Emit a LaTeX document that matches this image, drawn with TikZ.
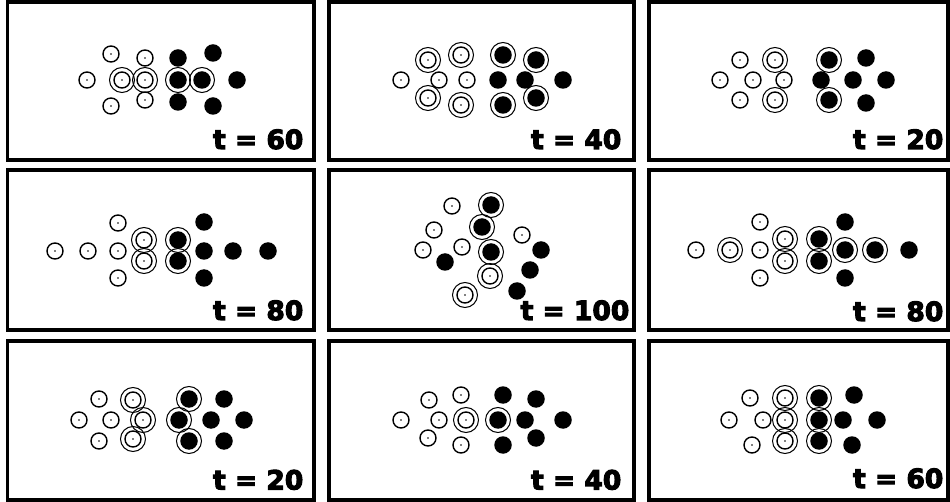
\documentclass[tikz,border=0pt]{standalone}
\usepackage{fontspec}
\newfontfamily\lblfont{DejaVu Sans}[BoldFeatures={FakeBold=4}]
\tikzset{
  frame/.style={draw, line width=3.5pt},
  opn/.style={circle, draw, line width=1.4pt, inner sep=0pt, minimum size=16pt,
    path picture={\fill (path picture bounding box.center) circle (0.9pt);}},
  fil/.style={circle, fill, inner sep=0pt, minimum size=17.5pt},
  ringc/.style={circle, draw, line width=1pt, inner sep=0pt, minimum size=25pt},
  tlabel/.style={anchor=base east, inner sep=0pt, font=\lblfont\bfseries\fontsize{26.5}{27}\selectfont}
}
\newcommand\dotO[3]{\node[opn] (#1) at (#2,#3) {};}
\newcommand\dotF[3]{\node[fil] (#1) at (#2,#3) {};}
\newcommand\dotRO[3]{\node[opn] (#1) at (#2,#3) {};\node[ringc] (#1r) at (#1) {};}
\newcommand\dotRF[3]{\node[fil] (#1) at (#2,#3) {};\node[ringc] (#1r) at (#1) {};}
\begin{document}
\begin{tikzpicture}[x=1pt,y=-1pt]
\useasboundingbox (0,0) rectangle (950,502);
% frames
\draw[frame] (7.5,2) rectangle (314,160);
\draw[frame] (329,2) rectangle (634,160);
\draw[frame] (649,2) rectangle (948,160);
\draw[frame] (7.5,170) rectangle (314,330);
\draw[frame] (329,170) rectangle (634,330);
\draw[frame] (649,170) rectangle (948,330);
\draw[frame] (7.5,341) rectangle (314,500);
\draw[frame] (329,341) rectangle (634,500);
\draw[frame] (649,341) rectangle (948,500);
% panel 1
\dotO{a1}{87}{80}
\dotO{a2}{111}{54}
\dotO{a3}{111}{106}
\dotRO{a4}{122}{80}
\dotRO{a5}{145}{80}
\dotO{a6}{145}{58}
\dotO{a7}{145}{100}
\dotF{a8}{178}{58}
\dotF{a9}{213}{53}
\dotRF{a10}{178}{80}
\dotRF{a11}{202}{80}
\dotF{a12}{237}{80}
\dotF{a13}{178}{102}
\dotF{a14}{213}{106}
\node[tlabel] (ta) at (303.5,149) {t = 60};
% panel 2
\dotO{b1}{401}{80}
\dotRO{b2}{428}{60}
\dotRO{b3}{461}{55}
\dotO{b4}{439}{80}
\dotO{b5}{467}{80}
\dotRO{b6}{428}{98}
\dotRO{b7}{461}{105}
\dotRF{b8}{503}{55}
\dotRF{b9}{536}{60}
\dotF{b10}{498}{80}
\dotF{b11}{525}{80}
\dotF{b12}{563}{80}
\dotRF{b13}{503}{105}
\dotRF{b14}{536}{98}
\node[tlabel] (tb) at (621.5,149) {t = 40};
% panel 3
\dotO{c1}{740}{60}
\dotRO{c2}{775}{60}
\dotO{c3}{720}{80}
\dotO{c4}{753}{80}
\dotO{c5}{784}{80}
\dotO{c6}{740}{100}
\dotRO{c7}{775}{100}
\dotRF{c8}{829}{60}
\dotF{c9}{866}{58}
\dotF{c10}{821}{80}
\dotF{c11}{853}{80}
\dotF{c12}{886}{80}
\dotRF{c13}{829}{100}
\dotF{c14}{866}{103}
\node[tlabel] (tc) at (943.5,149) {t = 20};
% panel 4
\dotO{d1}{55}{251}
\dotO{d2}{88}{251}
\dotO{d3}{118}{223}
\dotO{d4}{118}{251}
\dotO{d5}{118}{278}
\dotRO{d6}{144}{240}
\dotRO{d7}{144}{261}
\dotRF{d8}{178}{240}
\dotRF{d9}{178}{261}
\dotF{d10}{204}{222}
\dotF{d11}{204}{251}
\dotF{d12}{204}{278}
\dotF{d13}{233}{251}
\dotF{d14}{268}{251}
\node[tlabel] (td) at (303.5,320) {t = 80};
% panel 5
\dotO{e1}{452}{206}
\dotRF{e2}{491}{205}
\dotO{e3}{434}{230}
\dotRF{e4}{482}{227}
\dotO{e5}{522}{235}
\dotO{e6}{423}{250}
\dotO{e7}{462}{247}
\dotRF{e8}{491}{252}
\dotF{e9}{541}{250}
\dotF{e10}{445}{262}
\dotRO{e11}{490}{276}
\dotF{e12}{530}{270}
\dotRO{e13}{465}{295}
\dotF{e14}{517}{291}
\node[tlabel] (te) at (629.5,320) {t = 100};
% panel 6
\dotO{f1}{696}{250}
\dotRO{f2}{730}{250}
\dotO{f3}{760}{222}
\dotO{f4}{760}{250}
\dotO{f5}{760}{278}
\dotRO{f6}{785}{239}
\dotRO{f7}{785}{261}
\dotRF{f8}{819}{239}
\dotRF{f9}{819}{261}
\dotF{f10}{845}{222}
\dotRF{f11}{845}{250}
\dotF{f12}{845}{278}
\dotRF{f13}{875}{250}
\dotF{f14}{909}{250}
\node[tlabel] (tf) at (943.5,321) {t = 80};
% panel 7
\dotO{g1}{99}{399}
\dotRO{g2}{133}{400}
\dotO{g3}{79}{420}
\dotO{g4}{111}{420}
\dotRO{g5}{143}{420}
\dotO{g6}{99}{441}
\dotRO{g7}{133}{439}
\dotRF{g8}{189}{399}
\dotF{g9}{224}{399}
\dotRF{g10}{179}{420}
\dotF{g11}{211}{420}
\dotF{g12}{244}{420}
\dotRF{g13}{189}{441}
\dotF{g14}{224}{441}
\node[tlabel] (tg) at (303.5,489.5) {t = 20};
% panel 8
\dotO{h1}{429}{400}
\dotO{h2}{461}{395}
\dotO{h3}{401}{420}
\dotO{h4}{439}{420}
\dotRO{h5}{466}{420}
\dotO{h6}{428}{438}
\dotO{h7}{461}{445}
\dotF{h8}{503}{395}
\dotF{h9}{536}{399}
\dotRF{h10}{498}{420}
\dotF{h11}{525}{420}
\dotF{h12}{563}{420}
\dotF{h13}{503}{445}
\dotF{h14}{536}{438}
\node[tlabel] (th) at (621.5,489.5) {t = 40};
% panel 9
\dotO{i1}{750}{398}
\dotRO{i2}{785}{398}
\dotO{i3}{729}{420}
\dotO{i4}{763}{420}
\dotRO{i5}{785}{420}
\dotO{i6}{752}{445}
\dotRO{i7}{785}{441}
\dotRF{i8}{819}{398}
\dotF{i9}{854}{395}
\dotRF{i10}{819}{420}
\dotF{i11}{843}{420}
\dotF{i12}{877}{420}
\dotRF{i13}{819}{441}
\dotF{i14}{852}{445}
\node[tlabel] (ti) at (943.5,488) {t = 60};
\end{tikzpicture}
\end{document}
